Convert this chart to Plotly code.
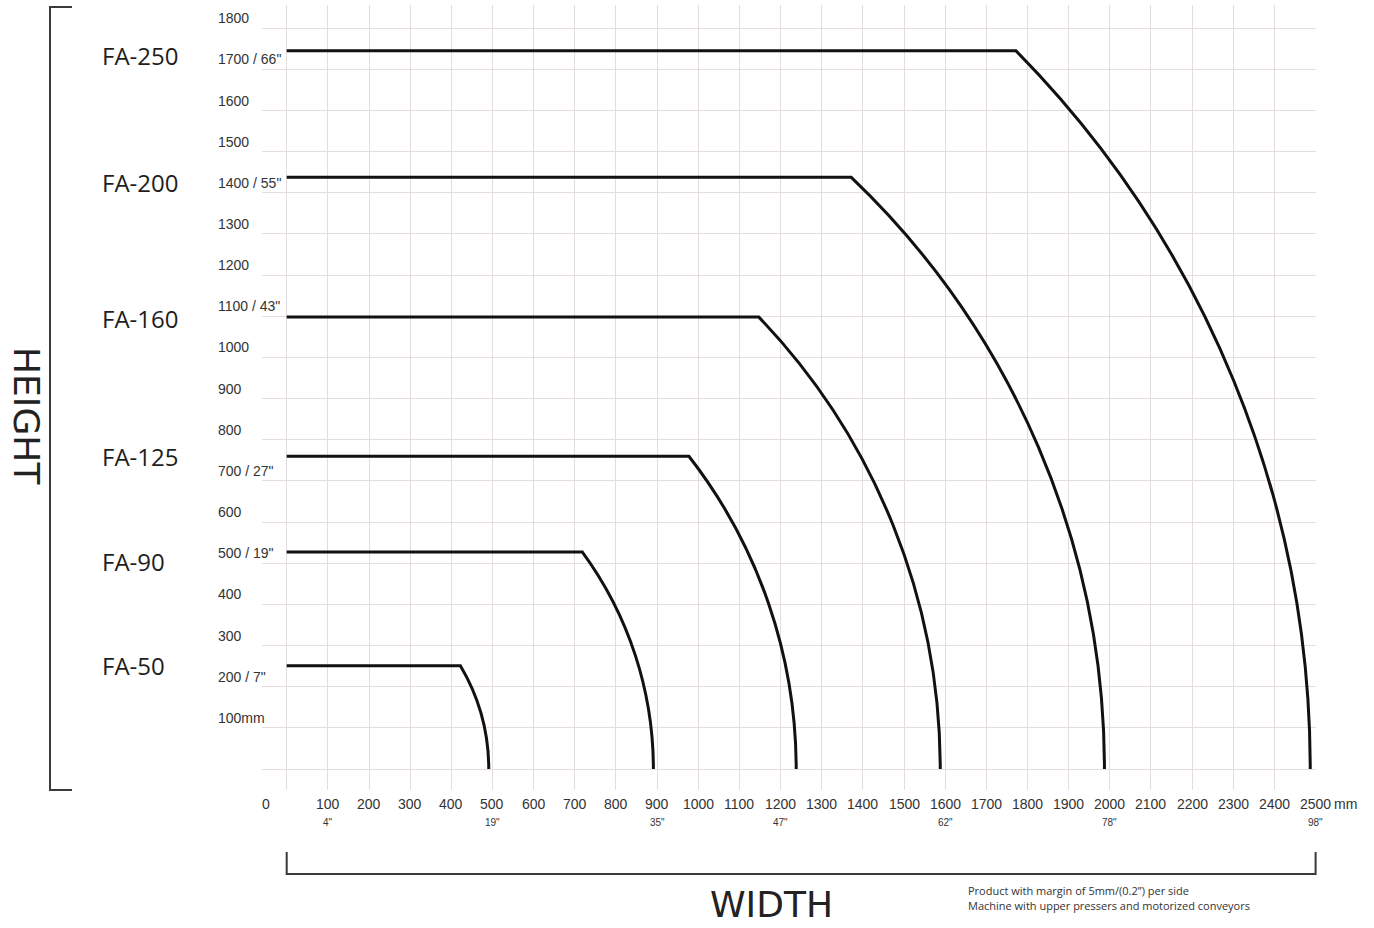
import math
import plotly.graph_objects as go

# ---------------- data ----------------
models = ["FA-50", "FA-90", "FA-125", "FA-160", "FA-200", "FA-250"]
max_height_mm = [251, 527, 760, 1098, 1438, 1745]
max_width_mm = [491, 891, 1238, 1588, 1987, 2487]

x_ticks = [0, 100, 200, 300, 400, 500, 600, 700, 800, 900, 1000, 1100, 1200, 1300,
           1400, 1500, 1600, 1700, 1800, 1900, 2000, 2100, 2200, 2300, 2400, 2500]
x_tick_labels = ["0", "100", "200", "300", "400", "500", "600", "700", "800", "900", "1000",
                 "1100", "1200", "1300", "1400", "1500", "1600", "1700", "1800", "1900",
                 "2000", "2100", "2200", "2300", "2400", "2500"]
inch_ticks = [100, 500, 900, 1200, 1600, 2000, 2500]
inch_labels = ['4"', '19"', '35"', '47"', '62"', '78"', '98"']
y_ticks = [0, 100, 200, 300, 400, 500, 600, 700, 800, 900, 1000, 1100, 1200, 1300,
           1400, 1500, 1600, 1700, 1800]
y_tick_labels = ["", "100mm", "200 / 7\"", "300", "400", "500 / 19\"", "600", "700 / 27\"", "800",
                 "900", "1000", "1100 / 43\"", "1200", "1300", "1400 / 55\"", "1500", "1600",
                 "1700 / 66\"", "1800"]

# ---------------- geometry / style ----------------
W, H = 1374, 928
ML, MR, MT, MB = 262, 58, 5, 138
PW, PH = W - ML - MR, H - MT - MB
X_RANGE = [-60, 2501]
scale = PW / (X_RANGE[1] - X_RANGE[0])
Y_RANGE = [-51, -51 + PH / scale]


def paper_x(px):
    return (px - ML) / PW


def paper_y(py):
    return (H - MB - py) / PH


def data_to_paper_x(v):
    return (v - X_RANGE[0]) / (X_RANGE[1] - X_RANGE[0])


GRID = "#e5dddd"
TICK_FONT = dict(family="Liberation Sans, Arial", size=14, color="#333333")
SMALL_FONT = dict(family="Liberation Sans, Arial", size=10, color="#333333")
MODEL_FONT = dict(family="Open Sans", size=24, color="#1e1e1e")
TITLE_FONT = dict(family="DejaVu Sans", size=36, color="#222222")
NOTE_FONT = dict(family="Open Sans", size=11, color="#333333")

fig = go.Figure()

# capacity curves: flat top at max height, then circular arc (centred at origin) down to max width
shapes = []
for h, r in zip(max_height_mm, max_width_mm):
    theta = math.asin(h / r)
    xc = r * math.cos(theta)
    k = 4.0 / 3.0 * math.tan(theta / 4.0)
    p1x = xc + k * r * math.sin(theta)
    p1y = h - k * r * math.cos(theta)
    p2x = r
    p2y = k * r
    path = f"M 0,{h} L {xc:.2f},{h} C {p1x:.2f},{p1y:.2f} {p2x:.2f},{p2y:.2f} {r},0"
    shapes.append(dict(type="path", path=path, xref="x", yref="y",
                       line=dict(color="#111111", width=3), layer="above"))

# left bracket (HEIGHT)
shapes.append(dict(type="path", xref="paper", yref="paper",
                   path=f"M {paper_x(72)},{paper_y(7)} L {paper_x(50)},{paper_y(7)} "
                        f"L {paper_x(50)},{paper_y(790)} L {paper_x(72)},{paper_y(790)}",
                   line=dict(color="#3a3a3a", width=2)))
# bottom bracket (WIDTH)
bx0 = data_to_paper_x(x_ticks[0])
bx1 = data_to_paper_x(x_ticks[-1])
shapes.append(dict(type="path", xref="paper", yref="paper",
                   path=f"M {bx0},{paper_y(852)} L {bx0},{paper_y(874)} "
                        f"L {bx1},{paper_y(874)} L {bx1},{paper_y(852)}",
                   line=dict(color="#3a3a3a", width=2)))

annotations = []
# y tick labels (sit just above their grid line)
for v, t in zip(y_ticks, y_tick_labels):
    if not t:
        continue
    annotations.append(dict(text=t, xref="paper", x=paper_x(216), xanchor="left",
                            yref="y", y=v, yanchor="middle", yshift=10,
                            showarrow=False, font=TICK_FONT))
# x tick labels
for v, t in zip(x_ticks, x_tick_labels):
    if v == 0:
        annotations.append(dict(text=t, xref="paper", x=paper_x(266), xanchor="center",
                                yref="paper", y=paper_y(804), yanchor="middle",
                                showarrow=False, font=TICK_FONT))
        continue
    annotations.append(dict(text=t, xref="x", x=v, xanchor="center",
                            yref="paper", y=paper_y(804), yanchor="middle",
                            showarrow=False, font=TICK_FONT))
annotations.append(dict(text="mm", xref="paper", x=paper_x(1332), xanchor="left",
                        yref="paper", y=paper_y(804), yanchor="middle",
                        showarrow=False, font=TICK_FONT))
# inch labels
for v, t in zip(inch_ticks, inch_labels):
    annotations.append(dict(text=t, xref="x", x=v, xanchor="center",
                            yref="paper", y=paper_y(822), yanchor="middle",
                            showarrow=False, font=SMALL_FONT))
# model labels
label_shift = [0, -9, 0, -1, -5, -5]
for m, h, s in zip(models, max_height_mm, label_shift):
    annotations.append(dict(text=m, xref="paper", x=paper_x(100), xanchor="left",
                            yref="y", y=h, yanchor="middle", yshift=s,
                            showarrow=False, font=MODEL_FONT))
# axis titles
annotations.append(dict(text="HEIGHT", xref="paper", x=paper_x(27), xanchor="center",
                        yref="paper", y=paper_y(416), yanchor="middle", textangle=90,
                        showarrow=False, font=TITLE_FONT))
annotations.append(dict(text="WIDTH", xref="paper", x=paper_x(771), xanchor="center",
                        yref="paper", y=paper_y(904), yanchor="middle",
                        showarrow=False, font=TITLE_FONT))
# notes
annotations.append(dict(text="Product with margin of 5mm/(0.2\u201d) per side", xref="paper",
                        x=paper_x(966), xanchor="left", yref="paper", y=paper_y(890),
                        yanchor="middle", showarrow=False, font=NOTE_FONT))
annotations.append(dict(text="Machine with upper pressers and motorized conveyors", xref="paper",
                        x=paper_x(966), xanchor="left", yref="paper", y=paper_y(905),
                        yanchor="middle", showarrow=False, font=NOTE_FONT))

fig.update_layout(
    width=W, height=H,
    margin=dict(l=ML, r=MR, t=MT, b=MB, pad=0),
    paper_bgcolor="white", plot_bgcolor="white",
    showlegend=False,
    shapes=shapes,
    annotations=annotations,
    xaxis=dict(range=X_RANGE, tickmode="array", tickvals=x_ticks, showticklabels=False,
               showgrid=True, gridcolor=GRID, gridwidth=1, zeroline=False, showline=False,
               ticks="", fixedrange=True),
    yaxis=dict(range=Y_RANGE, tickmode="array", tickvals=y_ticks, showticklabels=False,
               showgrid=True, gridcolor=GRID, gridwidth=1, zeroline=False, showline=False,
               ticks="", fixedrange=True),
)

fig.write_html(
    "out.html",
    config={"displayModeBar": False, "staticPlot": True},
    post_script="document.body.style.margin='0';document.body.style.overflow='hidden';",
)
